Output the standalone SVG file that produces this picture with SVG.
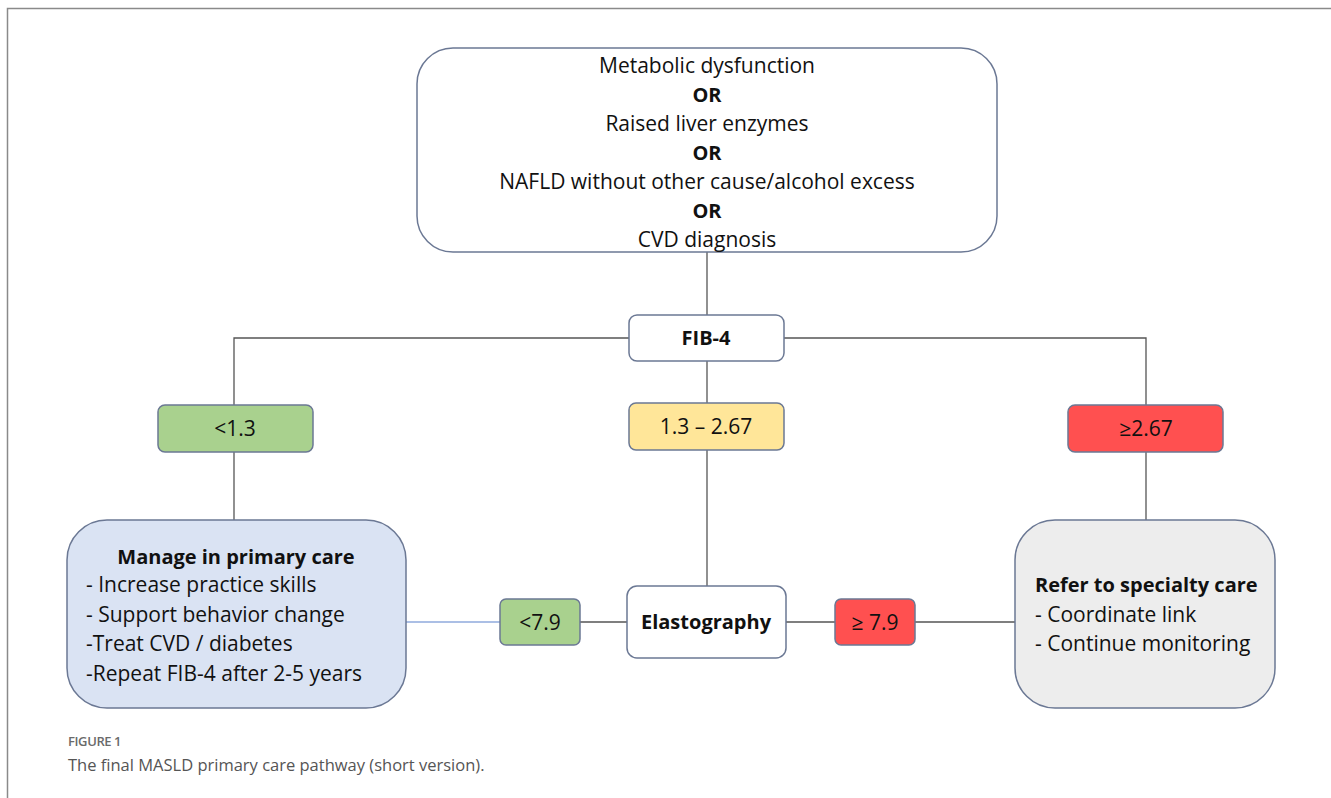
<svg xmlns="http://www.w3.org/2000/svg" width="1331" height="798" viewBox="0 0 1331 798">
<style>
.t{font-family:"Open Sans","Liberation Sans",sans-serif;font-size:21px;fill:#111}
.b{font-weight:bold;font-size:20px}
.c{text-anchor:middle}
.box{stroke:#6b7894;stroke-width:1.5}
.ln{stroke:#555;stroke-width:1.3;fill:none}
</style>
<rect width="1331" height="798" fill="#fff"/>
<path d="M7.5,798 V8.5 H1331" fill="none" stroke="#8a8a8a" stroke-width="1.5"/>
<g id="connectors">
<path class="ln" d="M707,252 V315"/>
<path class="ln" d="M629,338 H234 V405"/>
<path class="ln" d="M784,338 H1146 V405"/>
<path class="ln" d="M707,361 V403"/>
<path class="ln" d="M234,452 V520"/>
<path class="ln" d="M707,450 V586"/>
<path class="ln" d="M1146,452 V520"/>
<path d="M406,622 H500" stroke="#8faadc" stroke-width="1.3"/>
<path class="ln" d="M580,622 H627"/>
<path class="ln" d="M786,622 H835"/>
<path class="ln" d="M915,622 H1015"/>
</g>
<g id="entry">
<rect class="box" x="417" y="48" width="580" height="204" rx="36" fill="#fff"/>
<text class="t c" x="707" y="73">Metabolic dysfunction</text>
<text class="t c b" x="707" y="102">OR</text>
<text class="t c" x="707" y="131">Raised liver enzymes</text>
<text class="t c b" x="707" y="160">OR</text>
<text class="t c" x="707" y="189">NAFLD without other cause/alcohol excess</text>
<text class="t c b" x="707" y="218">OR</text>
<text class="t c" x="707" y="247">CVD diagnosis</text>
</g>
<g id="fib4">
<rect class="box" x="629" y="315" width="155" height="46" rx="8" fill="#fff"/>
<text class="t c b" x="706" y="345">FIB-4</text>
</g>
<g id="low">
<rect class="box" x="158" y="405" width="155" height="47" rx="7" fill="#a9d18e"/>
<text class="t c" x="235" y="436">&lt;1.3</text>
</g>
<g id="mid">
<rect class="box" x="629" y="403" width="155" height="47" rx="7" fill="#ffe699"/>
<text class="t c" x="706" y="434">1.3 – 2.67</text>
</g>
<g id="high">
<rect class="box" x="1068" y="405" width="155" height="47" rx="7" fill="#ff5050"/>
<text class="t c" x="1146" y="436">≥2.67</text>
</g>
<g id="primary">
<rect class="box" x="67" y="520" width="339" height="188" rx="40" fill="#dae3f3"/>
<text class="t c b" x="236" y="564">Manage in primary care</text>
<text class="t" x="86" y="592">- Increase practice skills</text>
<text class="t" x="86" y="622">- Support behavior change</text>
<text class="t" x="86" y="651">-Treat CVD / diabetes</text>
<text class="t" x="86" y="681">-Repeat FIB-4 after 2-5 years</text>
</g>
<g id="elast">
<rect class="box" x="627" y="586" width="159" height="72" rx="10" fill="#fff"/>
<text class="t c b" x="706" y="629">Elastography</text>
</g>
<g id="elow">
<rect class="box" x="500" y="599" width="80" height="46" rx="6" fill="#a9d18e"/>
<text class="t c" x="540" y="630">&lt;7.9</text>
</g>
<g id="ehigh">
<rect class="box" x="835" y="599" width="80" height="46" rx="6" fill="#ff5050"/>
<text class="t c" x="875" y="630">≥ 7.9</text>
</g>
<g id="specialty">
<rect class="box" x="1015" y="520" width="260" height="188" rx="40" fill="#ededed"/>
<text class="t b" x="1035" y="592">Refer to specialty care</text>
<text class="t" x="1035" y="622">- Coordinate link</text>
<text class="t" x="1035" y="651">- Continue monitoring</text>
</g>
<g id="caption">
<text x="68" y="746" font-family="'Open Sans','Liberation Sans',sans-serif" font-size="13" font-weight="600" letter-spacing="-0.4" fill="#6a6a6a">FIGURE 1</text>
<text x="68" y="771" font-family="'Open Sans','Liberation Sans',sans-serif" font-size="16.5" fill="#555">The final MASLD primary care pathway (short version).</text>
</g>
</svg>
